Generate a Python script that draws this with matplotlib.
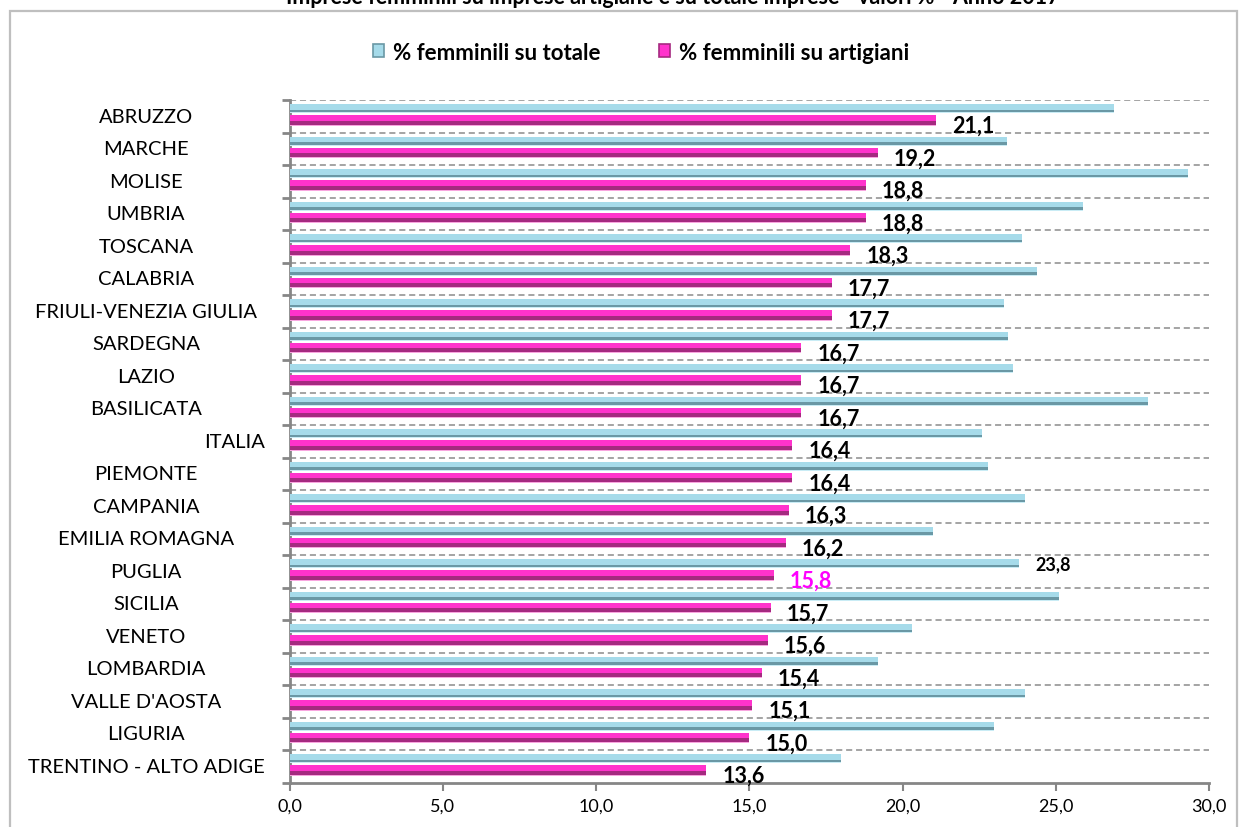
import matplotlib
matplotlib.use('Agg')
import matplotlib.pyplot as plt
from matplotlib.patches import Rectangle, Patch
from matplotlib.transforms import blended_transform_factory
import numpy as np

regions = ["ABRUZZO", "MARCHE", "MOLISE", "UMBRIA", "TOSCANA", "CALABRIA",
           "FRIULI-VENEZIA GIULIA", "SARDEGNA", "LAZIO", "BASILICATA", "ITALIA",
           "PIEMONTE", "CAMPANIA", "EMILIA ROMAGNA", "PUGLIA", "SICILIA", "VENETO",
           "LOMBARDIA", "VALLE D'AOSTA", "LIGURIA", "TRENTINO - ALTO ADIGE"]
pct_totale = [26.9, 23.4, 29.3, 25.9, 23.9, 24.4, 23.3, 23.45, 23.6, 28.0, 22.6,
              22.8, 24.0, 21.0, 23.8, 25.1, 20.3, 19.2, 24.0, 23.0, 18.0]
pct_artigiani = [21.1, 19.2, 18.8, 18.8, 18.3, 17.7, 17.7, 16.7, 16.7, 16.7, 16.4,
                 16.4, 16.3, 16.2, 15.8, 15.7, 15.6, 15.4, 15.1, 15.0, 13.6]
x_ticks = [0, 5, 10, 15, 20, 25, 30]
series_names = ["% femminili su totale", "% femminili su artigiani"]
title = "Imprese femminili su imprese artigiane e su totale imprese - valori % - Anno 2017"

FONT = ['Lato', 'DejaVu Sans']
plt.rcParams['font.family'] = FONT

W, H = 1243, 828
fig = plt.figure(figsize=(W / 100, H / 100), dpi=100)

# outer frame (chart area border)
fig.patches.append(Rectangle((10 / W, -0.05), (1237 - 10) / W, 1.05 - 12 / H,
                             transform=fig.transFigure, fill=False,
                             edgecolor='#BFBFBF', lw=1.6, zorder=0))
# title (partially cut at top, as in the reference)
fig.text(673 / W, 1 - 4 / H, title, ha='center', va='baseline',
         fontsize=15.5, fontweight='bold', color='black')

left, right, top, bottom = 289.5, 1209, 101, 783.5
ax = fig.add_axes([left / W, 1 - bottom / H, (right - left) / W, (bottom - top) / H])

n = len(regions)
y = np.arange(n)[::-1].astype(float)

teal_light, teal_dark, teal_edge = '#A6DBEA', '#6A98A5', '#C9ECF5'
pink_main, pink_dark, pink_edge = '#FF33CC', '#A52A80', '#F9A6E0'

h_t, c_t = 0.28, 0.23
h_p, c_p = 0.33, -0.13

# teal bars with simple bevel look
ax.barh(y + c_t, pct_totale, height=h_t, color=teal_light, zorder=3)
ax.barh(y + c_t - h_t * 0.24, pct_totale, height=h_t * 0.26, color=teal_dark, zorder=4)
ax.barh(y + c_t - h_t * 0.44, pct_totale, height=h_t * 0.12, color=teal_edge, zorder=4)
# pink bars
ax.barh(y + c_p, pct_artigiani, height=h_p, color=pink_main, zorder=3)
ax.barh(y + c_p - h_p * 0.22, pct_artigiani, height=h_p * 0.36, color=pink_dark, zorder=4)
ax.barh(y + c_p - h_p * 0.44, pct_artigiani, height=h_p * 0.12, color=pink_edge, zorder=4)

def fmt(v):
    return f"{v:.1f}".replace('.', ',')

for yi, v, name in zip(y, pct_artigiani, regions):
    col = '#FF00FF' if name == 'PUGLIA' else 'black'
    ax.annotate(fmt(v), (v, yi + c_p), xytext=(11.5, -3.5), textcoords='offset points',
                ha='left', va='center', fontsize=15.5, fontweight='bold', color=col,
                zorder=6)
    if name == 'PUGLIA':
        tv = pct_totale[regions.index(name)]
        ax.annotate(fmt(tv), (tv, yi + c_t), xytext=(12, 0), textcoords='offset points',
                    ha='left', va='center', fontsize=13, fontweight='bold',
                    color='black', zorder=6)

ax.set_xlim(0, 30)
ax.set_ylim(-0.5, n - 0.5)

# dashed gridlines at category boundaries
bounds = np.arange(n) + 0.5
ax.hlines(bounds, 0, 30, colors='#8C8C8C', linestyles=(0, (4, 2.5)), lw=1.1, zorder=1)

for s in ['top', 'right']:
    ax.spines[s].set_visible(False)
for s in ['left', 'bottom']:
    ax.spines[s].set_color('#868686')
    ax.spines[s].set_linewidth(2)

ax.set_yticks(np.arange(-1, n) + 0.5)
ax.set_yticklabels([])
ax.tick_params(axis='y', length=6, width=2, color='#868686', direction='out')
ax.set_xticks(x_ticks)
ax.set_xticklabels([fmt(t) for t in x_ticks], fontsize=13)
ax.tick_params(axis='x', length=6, width=1.5, color='#868686', direction='out', pad=5)

trans = blended_transform_factory(fig.transFigure, ax.transData)
for yi, name in zip(y, regions):
    if name == 'ITALIA':
        ax.text(265 / W, yi, name, transform=trans, ha='right', va='center', fontsize=14.5)
    else:
        ax.text(146 / W, yi, name, transform=trans, ha='center', va='center', fontsize=14.5)

handles = [Patch(facecolor=teal_light, edgecolor=teal_dark, lw=1.2),
           Patch(facecolor=pink_main, edgecolor=pink_dark, lw=1.2)]
fig.legend(handles, series_names, loc='center', bbox_to_anchor=(641 / W, 1 - 53 / H),
           ncol=2, frameon=False, handlelength=0.5, handleheight=0.5,
           handletextpad=0.4, columnspacing=2.6,
           prop={'family': FONT, 'weight': 'bold', 'size': 16})

fig.savefig('out.png', dpi=100)
